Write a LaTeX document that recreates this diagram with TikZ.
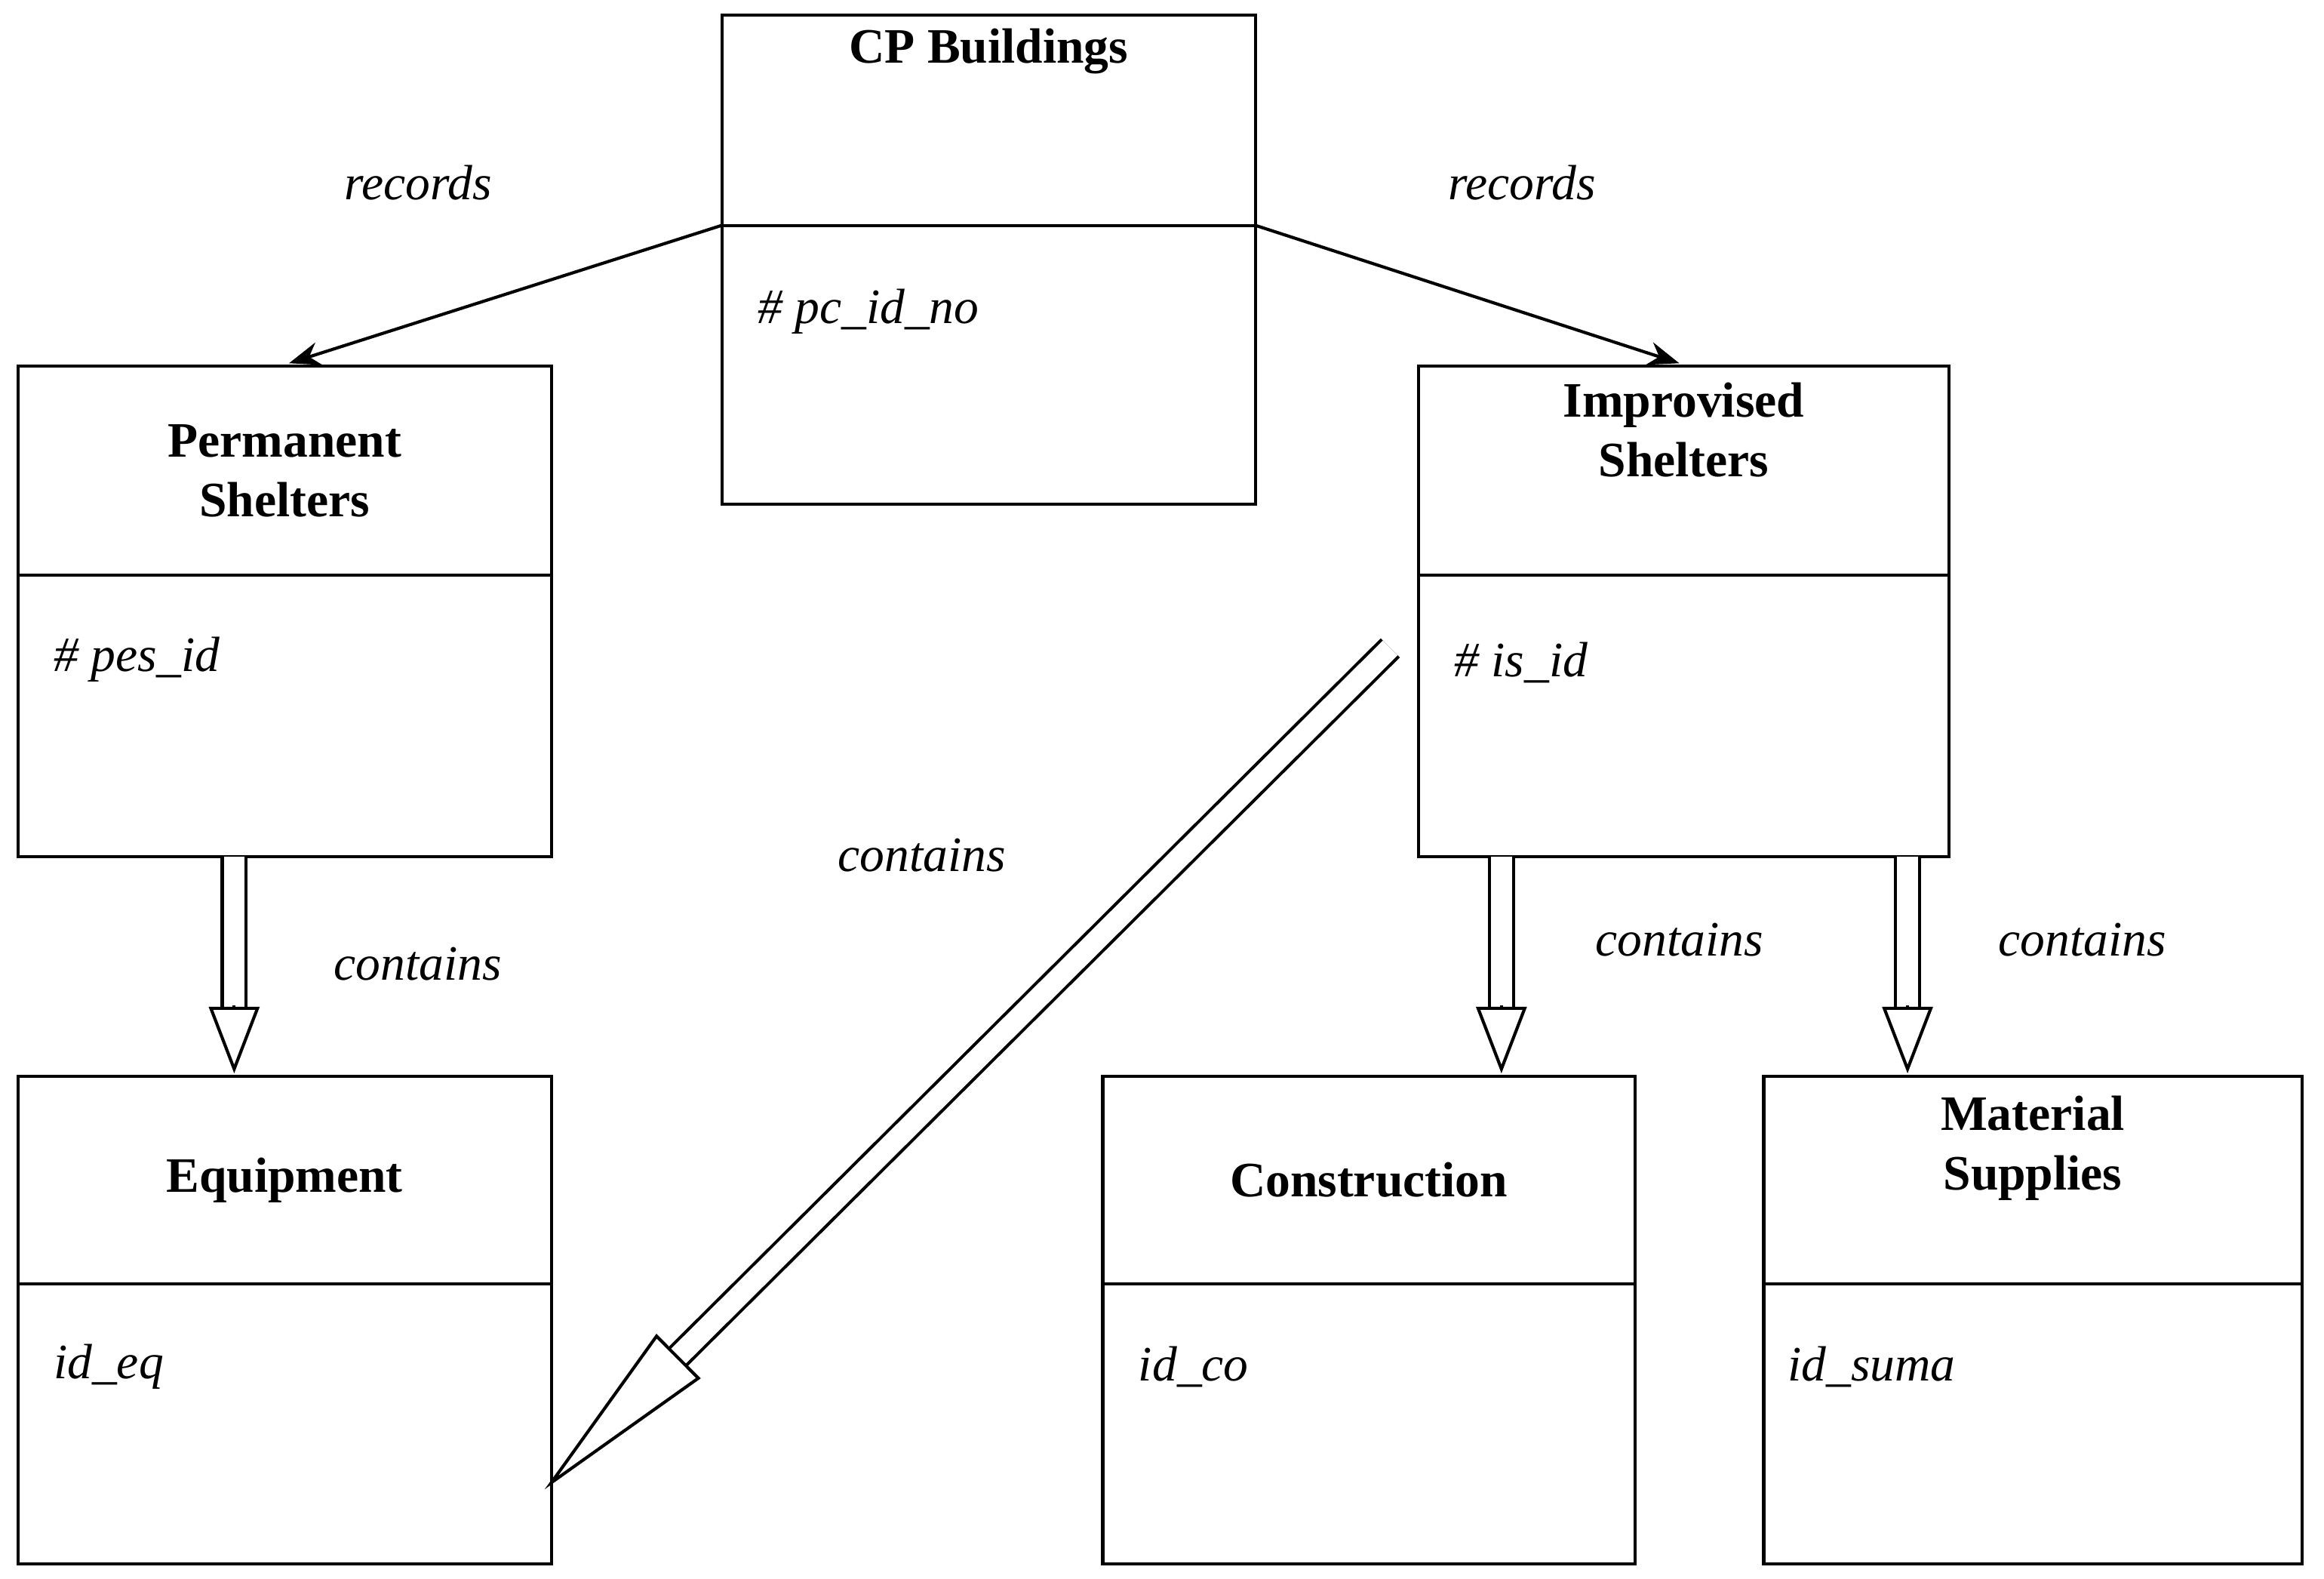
\documentclass[tikz,border=0pt]{standalone}
\usepackage{fontspec}
\setmainfont{Liberation Serif}
\usetikzlibrary{arrows.meta,calc}
\begin{document}
\begin{tikzpicture}[x=0.02cm,y=-0.02cm,
  box/.style={draw,line width=1.2pt},
  ttl/.style={font=\fontsize{19}{23}\selectfont\bfseries,align=center},
  att/.style={font=\fontsize{19}{23}\selectfont\itshape,anchor=west},
  lbl/.style={font=\fontsize{19}{23}\selectfont\itshape},
  rec/.style={line width=1.2pt,-{Stealth[length=12pt,width=9pt]}}]
\useasboundingbox (0,0) rectangle (1568,1065);
% boxes
\newcommand{\ebox}[7]{%
  \draw[box] (#2,#3) rectangle (#4,#5) coordinate (#1-br);
  \draw[box] (#2,#6) -- (#4,#6);
  \coordinate (#1-tl) at (#2,#3);
  \node[ttl] (#1-t) at ({(#2+#4)/2},{(#3+#6)/2}) {#7};}
\ebox{cp}{487}{10}{847}{340}{152}{CP Buildings\\[1.2cm]}
\ebox{ps}{12}{247}{372}{578}{388}{Permanent\\Shelters}
\ebox{is}{957}{247}{1315}{578}{388}{Improvised\\Shelters\\[0.3cm]}
\ebox{eq}{12}{726}{372}{1055}{866}{Equipment}
\ebox{co}{744}{726}{1103}{1055}{866}{Construction}
\ebox{ms}{1190}{726}{1553}{1055}{866}{Material\\Supplies\\[0.2cm]}
\node[att] (a1) at (505,210) {\# pc\_id\_no};
\node[att] (a2) at (30,445) {\# pes\_id};
\node[att] (a3) at (975,447) {\# is\_id};
\node[att] (a4) at (30,922) {id\_eq};
\node[att] (a5) at (762,922) {id\_co};
\node[att] (a6) at (1200,922) {id\_suma};
% records arrows
\coordinate (cpl) at (487,152); \coordinate (cpr) at (847,152);
\coordinate (psT) at (195,245); \coordinate (isT) at (1133,245);
\draw[rec] (cpl) -- (psT);
\draw[rec] (cpr) -- (isT);
\node[lbl] (r1) at (282,123) {records};
\node[lbl] (r2) at (1027,123) {records};
% hollow arrows
\newcommand{\hollow}[2]{%
  \draw[line width=1.2pt,double=white,double distance=8pt] (#1) -- ($(#2)!45*0.02cm!(#1)$);
  \draw[line width=1.2pt,-{Triangle[fill=white,length=45*0.02cm,width=34*0.02cm]}] ($(#2)!46*0.02cm!(#1)$) -- (#2);}
\coordinate (h1s) at (158,578); \coordinate (h1e) at (158,724);
\coordinate (h2s) at (1013,578); \coordinate (h2e) at (1013,724);
\coordinate (h3s) at (1287,578); \coordinate (h3e) at (1287,724);
\coordinate (h4s) at (938,437); \coordinate (h4e) at (372,1000);
\hollow{h1s}{h1e}
\hollow{h2s}{h2e}
\hollow{h3s}{h3e}
\draw[line width=1.2pt,double=white,double distance=8pt] (h4s) -- ($(h4e)!120*0.02cm!(h4s)$);
\draw[line width=1.2pt,fill=white] ($(h4e)!120*0.02cm!(h4s)!20*0.02cm!90:(h4s)$) -- (h4e) -- ($(h4e)!120*0.02cm!(h4s)!20*0.02cm!-90:(h4s)$) -- cycle;
\node[lbl] (c1) at (282,650) {contains};
\node[lbl] (c2) at (622,577) {contains};
\node[lbl] (c3) at (1133,634) {contains};
\node[lbl] (c4) at (1405,634) {contains};
\end{tikzpicture}
\end{document}
